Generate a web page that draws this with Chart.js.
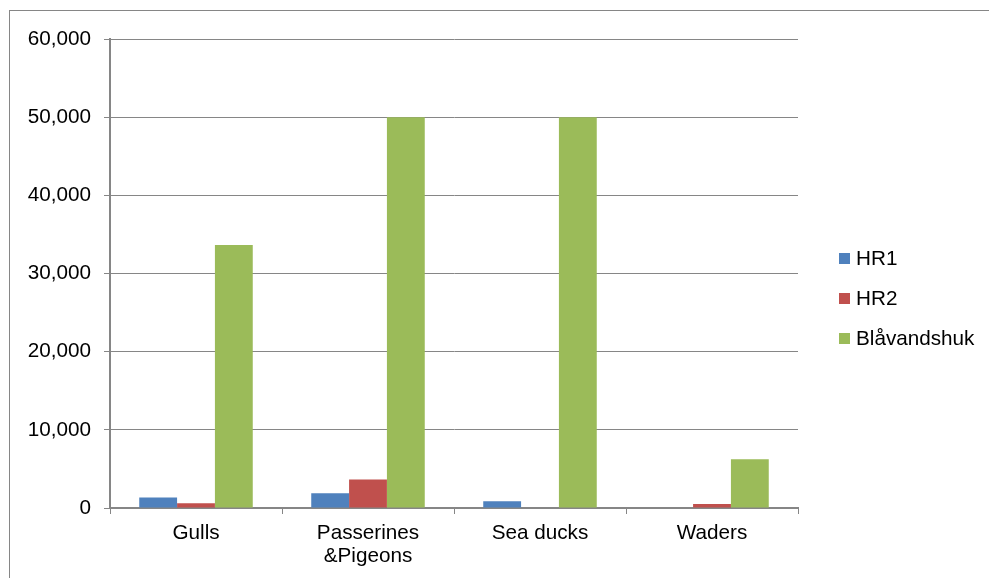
<!DOCTYPE html>
<html>
<head>
<meta charset="utf-8">
<script src="https://cdn.jsdelivr.net/npm/chart.js@4/dist/chart.umd.min.js"></script>
<style>
  html, body { margin:0; padding:0; background:#fff; }
  #wrap { position:relative; width:989px; height:578px; }
</style>
</head>
<body>
<div id="wrap"><canvas id="c" width="989" height="578"></canvas></div>
<script>
const categories = [['Gulls'], ['Passerines', '&Pigeons'], ['Sea ducks'], ['Waders']];
const hr1 = [1350, 1900, 850, 0];
const hr2 = [600, 3650, 0, 500];
const blaavand = [33650, 50000, 50000, 6250];
const yTicks = [0, 10000, 20000, 30000, 40000, 50000, 60000];

const axisGrey = '#868686';
const font = { family: 'Liberation Sans, Arial, sans-serif', size: 20.7, lineHeight: 1.14 };

// outer frame of the chart object, runs past the right/bottom edge
const framePlugin = {
  id: 'frame',
  beforeDraw(chart) {
    const ctx = chart.ctx;
    ctx.save();
    ctx.strokeStyle = axisGrey;
    ctx.lineWidth = 1;
    ctx.strokeRect(9.5, 10.5, 2000, 2000);
    ctx.restore();
  }
};

// legend on the right: square swatch + label
const sideLegend = {
  id: 'sideLegend',
  afterDraw(chart) {
    const ctx = chart.ctx;
    ctx.save();
    ctx.font = font.size + 'px ' + font.family;
    ctx.textBaseline = 'middle';
    ctx.textAlign = 'left';
    chart.data.datasets.forEach((ds, i) => {
      const cy = 258 + i * 40;
      ctx.fillStyle = ds.backgroundColor;
      ctx.fillRect(839, cy - 5, 11, 11);
      ctx.fillStyle = '#000';
      ctx.fillText(ds.label, 856, cy + 1);
    });
    ctx.restore();
  }
};

new Chart(document.getElementById('c'), {
  type: 'bar',
  data: {
    labels: categories,
    datasets: [
      { label: 'HR1', data: hr1, backgroundColor: '#4F81BD' },
      { label: 'HR2', data: hr2, backgroundColor: '#C0504D' },
      { label: 'Blåvandshuk', data: blaavand, backgroundColor: '#9BBB59' }
    ]
  },
  options: {
    responsive: false,
    animation: false,
    layout: { padding: { left: 0, top: 39, right: 191, bottom: 0 } },
    datasets: { bar: { categoryPercentage: 0.66, barPercentage: 1 } },
    plugins: { legend: { display: false }, tooltip: { enabled: false } },
    scales: {
      x: {
        afterFit: s => { s.height = 70; },
        grid: { offset: true, drawOnChartArea: false, color: axisGrey, tickLength: 6, tickWidth: 1 },
        border: { color: axisGrey, width: 2 },
        ticks: { color: '#000', font: font, padding: 7, maxRotation: 0 }
      },
      y: {
        min: 0, max: 60000,
        afterFit: s => { s.width = 110; },
        afterBuildTicks: s => { s.ticks = yTicks.map(v => ({ value: v })); },
        grid: { color: axisGrey, lineWidth: 1, tickLength: 6 },
        border: { color: axisGrey, width: 2 },
        ticks: { color: '#000', font: font, padding: 13, callback: v => v.toLocaleString('en-US') }
      }
    }
  },
  plugins: [framePlugin, sideLegend]
});
</script>
</body>
</html>
